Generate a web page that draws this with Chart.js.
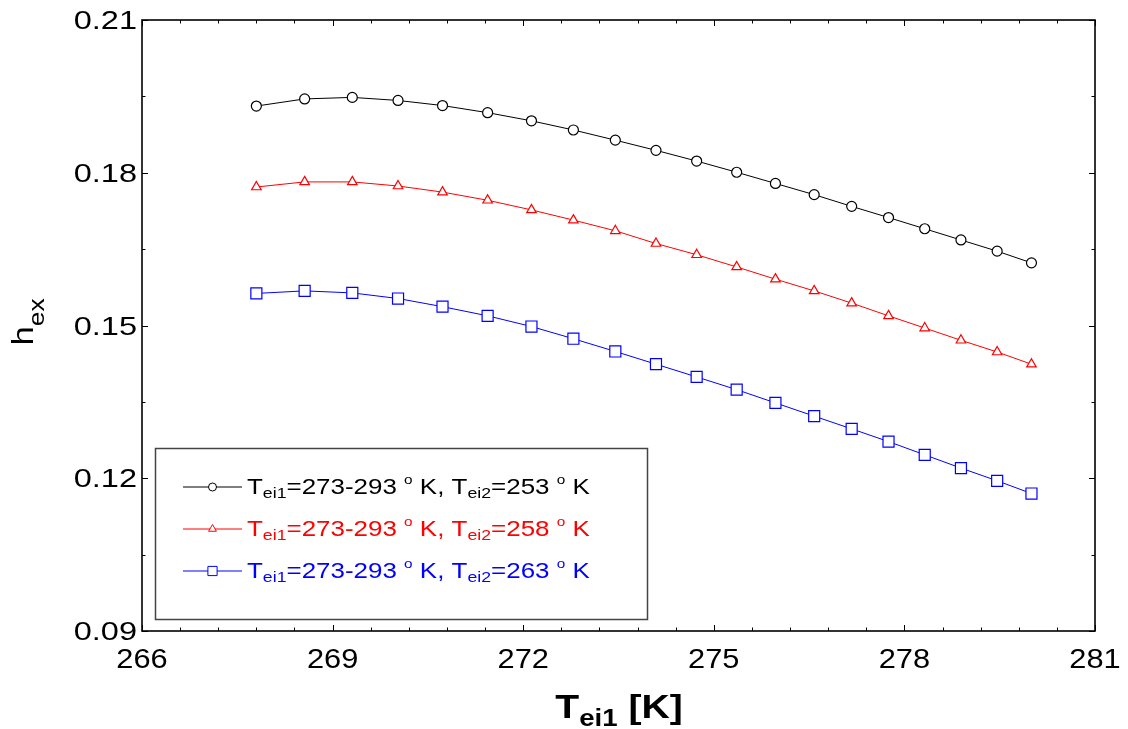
<!DOCTYPE html>
<html>
<head>
<meta charset="utf-8">
<script src="https://cdn.jsdelivr.net/npm/chart.js@4/dist/chart.umd.min.js"></script>
<style>
  body { margin: 0; background: #fff; }
  #wrap { width: 1128px; height: 729px; position: relative; }
</style>
</head>
<body>
<div id="wrap"><canvas id="grafico"></canvas></div>
<script>
// valores
const tei1 = [267.8, 268.56, 269.31, 270.03, 270.73, 271.44, 272.13, 272.79, 273.45, 274.09,
              274.73, 275.36, 275.97, 276.58, 277.17, 277.75, 278.32, 278.89, 279.46, 280.0];
const hex253 = [0.1931, 0.1945, 0.1948, 0.1942, 0.1932, 0.1918, 0.1902, 0.1884, 0.1864, 0.1844,
                0.1823, 0.1801, 0.1779, 0.1757, 0.1734, 0.1712, 0.1690, 0.1668, 0.1646, 0.1623];
const hex258 = [0.1772, 0.1782, 0.1782, 0.1774, 0.1762, 0.1746, 0.1727, 0.1707, 0.1686, 0.1661,
                0.1639, 0.1615, 0.1591, 0.1568, 0.1544, 0.1519, 0.1495, 0.1471, 0.1448, 0.1424];
const hex263 = [0.1563, 0.1568, 0.1564, 0.1553, 0.1537, 0.1519, 0.1498, 0.1474, 0.1449, 0.1424,
                0.1399, 0.1374, 0.1348, 0.1322, 0.1297, 0.1272, 0.1246, 0.1220, 0.1195, 0.1170];
const tei2Labels = ['253', '258', '263'];
const xTicks = [266, 269, 272, 275, 278, 281];
const yTicks = [0.09, 0.12, 0.15, 0.18, 0.21];
const yTickLabels = ['0.09', '0.12', '0.15', '0.18', '0.21'];

const cores = ['#000000', '#ff0000', '#0000ff'];
const estilos = ['circle', 'triangle', 'rect'];
const raios = [5, 5.5, 7.8];
const series = [hex253, hex258, hex263];

const FONTE = '"Liberation Sans", Arial, sans-serif';

function pontos(valores) {
    return tei1.map((t, i) => ({ x: t, y: valores[i] }));
}

// texto com sub/sobrescrito, esticado na horizontal
function textoRico(ctx, partes, x, y, align, sx) {
    let w = 0;
    partes.forEach(p => { ctx.font = p.font; p.w = ctx.measureText(p.t).width; w += p.w; });
    let cx = align === 'center' ? -w / 2 : align === 'right' ? -w : 0;
    ctx.save();
    ctx.translate(x, y);
    ctx.scale(sx, 1);
    ctx.textAlign = 'left';
    ctx.textBaseline = 'alphabetic';
    partes.forEach(p => {
        ctx.font = p.font;
        ctx.fillStyle = p.color || '#000';
        ctx.fillText(p.t, cx, p.dy || 0);
        cx += p.w;
    });
    ctx.restore();
}

const molduraPlugin = {
    id: 'moldura',
    afterDraw(chart) {
        const ctx = chart.ctx;
        const a = chart.chartArea;
        const sx = chart.scales.x, sy = chart.scales.y;
        ctx.save();

        // moldura
        ctx.strokeStyle = '#000';
        ctx.lineWidth = 1.6;
        ctx.strokeRect(a.left, a.top, a.right - a.left, a.bottom - a.top);

        // marcas para dentro
        ctx.lineWidth = 1;
        ctx.beginPath();
        for (let i = 0; i <= 25; i++) {
            const v = 266 + i * 0.6;
            const px = Math.round(sx.getPixelForValue(v)) + 0.5;
            const len = (i % 5 === 0) ? 6 : 3.5;
            ctx.moveTo(px, a.bottom); ctx.lineTo(px, a.bottom - len);
            ctx.moveTo(px, a.top); ctx.lineTo(px, a.top + len);
        }
        for (let i = 0; i <= 8; i++) {
            const v = 0.09 + i * 0.015;
            const py = Math.round(sy.getPixelForValue(v)) + 0.5;
            const len = (i % 2 === 0) ? 6 : 3.5;
            ctx.moveTo(a.left, py); ctx.lineTo(a.left + len, py);
            ctx.moveTo(a.right, py); ctx.lineTo(a.right - len, py);
        }
        ctx.stroke();

        // rotulos dos eixos
        xTicks.forEach(v => {
            textoRico(ctx, [{ t: String(v), font: '28px ' + FONTE }], sx.getPixelForValue(v), 668, 'center', 1.1);
        });
        yTicks.forEach((v, i) => {
            textoRico(ctx, [{ t: yTickLabels[i], font: '26px ' + FONTE }], 137, sy.getPixelForValue(v) + 9, 'right', 1.25);
        });

        // titulo eixo x
        textoRico(ctx, [
            { t: 'T', font: 'bold 34px ' + FONTE },
            { t: 'ei1', font: 'bold 24px ' + FONTE, dy: 8 },
            { t: ' [K]', font: 'bold 34px ' + FONTE }
        ], 619, 718, 'center', 1.15);

        // titulo eixo y
        ctx.save();
        ctx.translate(33, 322);
        ctx.rotate(-Math.PI / 2);
        textoRico(ctx, [
            { t: 'h', font: '29px ' + FONTE },
            { t: 'ex', font: '22px ' + FONTE, dy: 11 }
        ], 0, 0, 'center', 1.2);
        ctx.restore();

        // legenda
        ctx.strokeStyle = '#444';
        ctx.lineWidth = 1.5;
        ctx.strokeRect(155.5, 448.5, 492, 171);
        const linhasY = [487, 529, 571];
        series.forEach((s, i) => {
            const ly = linhasY[i];
            ctx.strokeStyle = cores[i];
            ctx.lineWidth = 1;
            ctx.beginPath();
            ctx.moveTo(183, ly); ctx.lineTo(242, ly);
            ctx.stroke();
            ctx.fillStyle = '#fff';
            ctx.strokeStyle = cores[i];
            Chart.helpers.drawPoint(ctx, { pointStyle: estilos[i], radius: [4, 4.5, 6.5][i], rotation: 0, borderWidth: 1 }, 212.5, ly);
            const c = cores[i];
            textoRico(ctx, [
                { t: 'T', font: '22px ' + FONTE, color: c },
                { t: 'ei1', font: '15px ' + FONTE, dy: 4, color: c },
                { t: '=273-293 ', font: '22px ' + FONTE, color: c },
                { t: 'o', font: '13px ' + FONTE, dy: -10, color: c },
                { t: ' K, T', font: '22px ' + FONTE, color: c },
                { t: 'ei2', font: '15px ' + FONTE, dy: 4, color: c },
                { t: '=' + tei2Labels[i] + ' ', font: '22px ' + FONTE, color: c },
                { t: 'o', font: '13px ' + FONTE, dy: -10, color: c },
                { t: ' K', font: '22px ' + FONTE, color: c }
            ], 247, ly + 7, 'left', 1.18);
        });

        ctx.restore();
    }
};

const ctx = document.getElementById('grafico').getContext('2d');
new Chart(ctx, {
    type: 'line',
    data: {
        datasets: series.map((s, i) => ({
            label: 'Tei2=' + tei2Labels[i],
            data: pontos(s),
            borderColor: cores[i],
            borderWidth: 1,
            backgroundColor: '#ffffff',
            pointStyle: estilos[i],
            pointRadius: raios[i],
            pointBorderWidth: 1.2,
            pointBackgroundColor: '#ffffff',
            pointBorderColor: cores[i],
            tension: 0
        }))
    },
    options: {
        responsive: true,
        maintainAspectRatio: false,
        animation: false,
        layout: { padding: { left: 0, top: 20, right: 33, bottom: 0 } },
        plugins: {
            legend: { display: false },
            tooltip: { enabled: false }
        },
        scales: {
            x: {
                type: 'linear',
                min: 266,
                max: 281,
                afterBuildTicks: s => { s.ticks = xTicks.map(v => ({ value: v })); },
                afterFit: s => { s.height = 98; },
                ticks: { display: false },
                grid: { display: false },
                border: { display: false }
            },
            y: {
                min: 0.09,
                max: 0.21,
                afterBuildTicks: s => { s.ticks = yTicks.map(v => ({ value: v })); },
                afterFit: s => { s.width = 142; },
                ticks: { display: false },
                grid: { display: false },
                border: { display: false }
            }
        }
    },
    plugins: [molduraPlugin]
});
</script>
</body>
</html>
